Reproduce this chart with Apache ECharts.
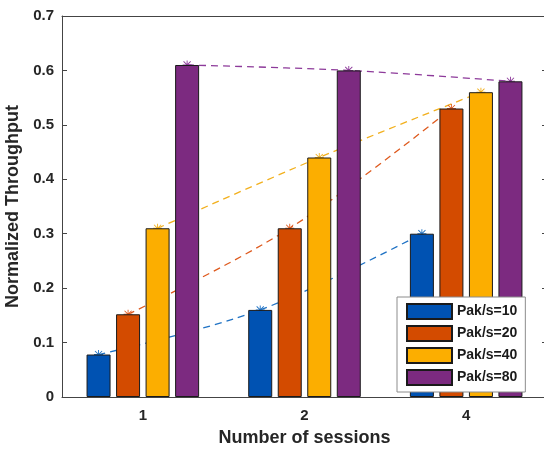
<!DOCTYPE html>
<html>
<head>
<meta charset="utf-8">
<script src="https://cdn.jsdelivr.net/npm/echarts@6/dist/echarts.min.js"></script>
<style>
  html, body { margin: 0; padding: 0; background: #fff; }
  #chart { width: 544px; height: 452px; }
</style>
</head>
<body>
<div id="chart"></div>
<script>
var sessions = ['1', '2', '4'];
var seriesNames = ['Pak/s=10', 'Pak/s=20', 'Pak/s=40', 'Pak/s=80'];
var pak10 = [0.078, 0.16, 0.30];
var pak20 = [0.152, 0.31, 0.53];
var pak40 = [0.31, 0.44, 0.56];
var pak80 = [0.61, 0.60, 0.58];
var yTicks = [0, 0.1, 0.2, 0.3, 0.4, 0.5, 0.6, 0.7];

var barColors = ['#0052b2', '#d34b00', '#fcae00', '#7c2a80'];
var lineColors = ['#1f72c4', '#de5a1e', '#f2b01e', '#8d3a9a'];
var allData = [pak10, pak20, pak40, pak80];

// layout of the bar groups (px)
var gridLeft = 62, gridWidth = 485;
var barW = 24, gapRatio = 0.23;
var catW = gridWidth / sessions.length;

// asterisk marker like matlab '*'
var star = 'path://M0 4.5L10 4.5L10 5.5L0 5.5Z M4.5 0L5.5 0L5.5 10L4.5 10Z ' +
    'M0.7 1.4L1.4 0.7L9.3 8.6L8.6 9.3Z M8.6 0.7L9.3 1.4L1.4 9.3L0.7 8.6Z';

var chart = echarts.init(document.getElementById('chart'));

var series = [];
// dashed fit lines through bar tops, drawn behind the bars
for (var i = 0; i < 4; i++) {
    var off = (i - 1.5) * barW * (1 + gapRatio) / catW;
    var pts = allData[i].map(function (v, k) { return [k + off, v]; });
    series.push({
        name: seriesNames[i] + ' fit',
        type: 'line',
        xAxisIndex: 2,
        data: pts,
        smooth: 0.35,
        z: 1,
        symbol: star,
        symbolSize: 9,
        itemStyle: { color: lineColors[i] },
        lineStyle: { color: lineColors[i], width: 1.3, type: [7, 5] },
        silent: true
    });
}
for (var j = 0; j < 4; j++) {
    series.push({
        name: seriesNames[j],
        type: 'bar',
        data: allData[j],
        barWidth: barW,
        barGap: (gapRatio * 100) + '%',
        z: 3,
        itemStyle: { color: barColors[j], borderColor: '#1a1a1a', borderWidth: 1 }
    });
}

var axisLabelFont = { fontFamily: 'Liberation Sans', fontWeight: 'bold', fontSize: 15, color: '#262626' };
var nameFont = { fontFamily: 'Liberation Sans', fontWeight: 'bold', fontSize: 18, color: '#262626' };

var option = {
    animation: false,
    grid: { left: gridLeft, top: 16, width: gridWidth, bottom: 55, containLabel: false, outerBoundsMode: 'none' },
    legend: {
        data: seriesNames,
        orient: 'vertical',
        left: 397,
        top: 297,
        width: 127,
        icon: 'rect',
        itemWidth: 45,
        itemHeight: 15,
        itemGap: 5,
        padding: [6, 8, 6, 9],
        backgroundColor: '#fff',
        borderColor: '#8c8c8c',
        borderWidth: 1,
        textStyle: { fontFamily: 'Liberation Sans', fontWeight: 'bold', fontSize: 14, color: '#1a1a1a' }
    },
    xAxis: [
        {
            type: 'category',
            data: sessions,
            name: 'Number of sessions',
            nameLocation: 'middle',
            nameGap: 32,
            nameTextStyle: nameFont,
            axisLine: { onZero: false, lineStyle: { color: '#444', width: 1 } },
            axisTick: { inside: true, alignWithLabel: true, length: 5, lineStyle: { color: '#444' } },
            axisLabel: Object.assign({ margin: 11 }, axisLabelFont),
            splitLine: { show: false }
        },
        {
            type: 'category',
            data: sessions,
            position: 'top',
            axisLine: { onZero: false, lineStyle: { color: '#444', width: 1 } },
            axisTick: { inside: true, alignWithLabel: true, length: 5, lineStyle: { color: '#444' } },
            axisLabel: { show: false },
            splitLine: { show: false }
        },
        {
            type: 'value',
            min: -0.5,
            max: 2.5,
            show: false
        }
    ],
    yAxis: [
        {
            type: 'value',
            min: 0,
            max: 0.7,
            interval: 0.1,
            name: 'Normalized Throughput',
            nameLocation: 'middle',
            nameGap: 35,
            nameTextStyle: nameFont,
            axisLine: { show: true, onZero: false, lineStyle: { color: '#444', width: 1 } },
            axisTick: { show: true, inside: true, length: 5, lineStyle: { color: '#444' } },
            axisLabel: Object.assign({
                margin: 8,
                formatter: function (v) { return yTicks.indexOf(Math.round(v * 10) / 10) >= 0 ? String(Math.round(v * 10) / 10) : ''; }
            }, axisLabelFont),
            splitLine: { show: false }
        },
        {
            type: 'value',
            min: 0,
            max: 0.7,
            interval: 0.1,
            position: 'right',
            axisLine: { show: true, onZero: false, lineStyle: { color: '#444', width: 1 } },
            axisTick: { show: true, inside: true, length: 5, lineStyle: { color: '#444' } },
            axisLabel: { show: false },
            splitLine: { show: false }
        }
    ],
    series: series
};

option && chart.setOption(option);
</script>
</body>
</html>
